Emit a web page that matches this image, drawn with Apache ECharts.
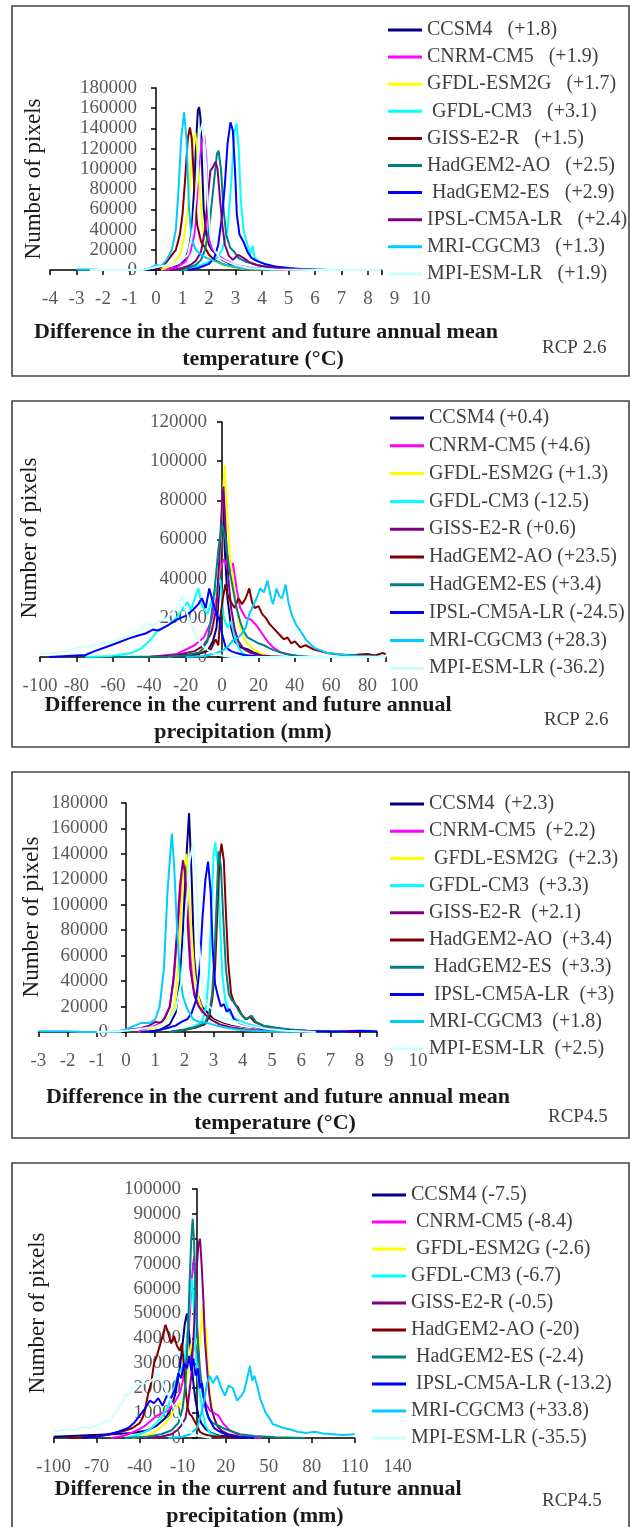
<!DOCTYPE html>
<html><head><meta charset="utf-8">
<script src="https://cdn.jsdelivr.net/npm/echarts@6/dist/echarts.min.js"></script>
<style>html,body{margin:0;padding:0;background:#fff}#c{width:630px;height:1527px}</style>
</head><body><div id="c"></div>
<script>
// ---------- categories / labels ----------
const models1 = ['CCSM4','CNRM-CM5','GFDL-ESM2G',' GFDL-CM3','GISS-E2-R','HadGEM2-AO',' HadGEM2-ES','IPSL-CM5A-LR','MRI-CGCM3','MPI-ESM-LR'];
const deltas1 = ['+1.8','+1.9','+1.7','+3.1','+1.5','+2.5','+2.9','+2.4','+1.3','+1.9'];
const models2 = ['CCSM4','CNRM-CM5','GFDL-ESM2G','GFDL-CM3','GISS-E2-R','HadGEM2-AO','HadGEM2-ES','IPSL-CM5A-LR','MRI-CGCM3','MPI-ESM-LR'];
const deltas2 = ['+0.4','+4.6','+1.3','-12.5','+0.6','+23.5','+3.4','-24.5','+28.3','-36.2'];
const models3 = ['CCSM4','CNRM-CM5',' GFDL-ESM2G','GFDL-CM3','GISS-E2-R','HadGEM2-AO',' HadGEM2-ES',' IPSL-CM5A-LR','MRI-CGCM3','MPI-ESM-LR'];
const deltas3 = ['+2.3','+2.2','+2.3','+3.3','+2.1','+3.4','+3.3','+3','+1.8','+2.5'];
const models4 = ['CCSM4',' CNRM-CM5',' GFDL-ESM2G','GFDL-CM3','GISS-E2-R','HadGEM2-AO',' HadGEM2-ES',' IPSL-CM5A-LR','MRI-CGCM3','MPI-ESM-LR'];
const deltas4 = ['-7.5','-8.4','-2.6','-6.7','-0.5','-20','-2.4','-13.2','+33.8','-35.5'];
const panelTags = ['RCP 2.6','RCP 2.6','RCP4.5','RCP4.5'];
const xTitles = [
  ['Difference in the current and future annual mean','temperature (°C)'],
  ['Difference in the current and future annual','precipitation (mm)'],
  ['Difference in the current and future annual mean','temperature (°C)'],
  ['Difference in the current and future annual','precipitation (mm)']
];
const yTitle = 'Number of pixels';

// ---------- panel 1: temperature, RCP 2.6 ----------
const t26_CCSM4 = [[-0.5,0],[0.2,500],[0.6,2000],[0.9,5000],[1.1,10000],[1.25,22000],[1.35,40000],[1.45,85000],[1.52,130000],[1.58,158000],[1.63,161000],[1.68,150000],[1.73,110000],[1.8,60000],[1.9,35000],[2.0,25000],[2.1,20000],[2.3,15000],[2.5,10000],[2.8,6000],[3.2,3000],[3.8,1000],[4.5,0]];
const t26_CNRM = [[0.3,0],[0.8,3000],[1.1,8000],[1.3,18000],[1.45,35000],[1.55,70000],[1.65,110000],[1.75,130000],[1.82,133000],[1.9,110000],[1.95,60000],[2.0,30000],[2.1,22000],[2.3,15000],[2.6,10000],[3.0,5000],[3.5,2500],[4.2,800],[5,0]];
const t26_GFDLESM = [[0.2,0],[0.6,5000],[0.9,15000],[1.05,30000],[1.2,60000],[1.3,95000],[1.4,125000],[1.48,136000],[1.55,120000],[1.65,80000],[1.75,45000],[1.85,25000],[2.0,15000],[2.2,9000],[2.5,5000],[3.0,2000],[3.5,800],[4.2,0]];
const t26_GFDLCM3 = [[1.0,0],[1.5,3000],[2.0,8000],[2.3,12000],[2.5,20000],[2.7,40000],[2.85,90000],[2.95,135000],[3.04,145000],[3.12,120000],[3.2,70000],[3.3,40000],[3.45,25000],[3.55,15000],[3.65,24000],[3.72,12000],[3.9,8000],[4.2,5000],[4.6,3000],[5.2,1500],[6,500],[7,0]];
const t26_GISS = [[0,0],[0.2,3000],[0.4,8000],[0.6,15000],[0.75,20000],[0.9,35000],[1.0,55000],[1.1,90000],[1.2,130000],[1.28,141000],[1.35,130000],[1.45,80000],[1.55,45000],[1.7,28000],[1.85,22000],[2.0,15000],[2.2,10000],[2.5,6000],[3.0,3000],[3.5,1000],[4.2,0]];
const t26_HadAO = [[0.8,0],[1.2,2000],[1.5,5000],[1.7,10000],[1.85,20000],[2.0,40000],[2.1,65000],[2.2,90000],[2.3,115000],[2.36,118000],[2.45,100000],[2.55,60000],[2.65,35000],[2.8,22000],[2.95,18000],[3.1,12000],[3.4,8000],[3.8,5000],[4.3,2500],[5,1000],[6,0]];
const t26_HadES = [[1.2,0],[1.6,2000],[2.0,6000],[2.2,12000],[2.35,25000],[2.5,55000],[2.6,85000],[2.7,125000],[2.81,146000],[2.9,138000],[2.98,100000],[3.05,55000],[3.15,35000],[3.3,28000],[3.45,18000],[3.6,12000],[3.8,9000],[4.1,6000],[4.5,3500],[5.0,2000],[5.5,800],[6.5,0],[8.5,0]];
const t26_IPSL = [[0.6,0],[1.0,2000],[1.3,5000],[1.5,9000],[1.7,18000],[1.85,40000],[1.95,70000],[2.05,98000],[2.15,102000],[2.25,107000],[2.32,100000],[2.4,75000],[2.5,45000],[2.6,25000],[2.75,14000],[2.9,10000],[3.1,15000],[3.3,12000],[3.5,8000],[3.8,5000],[4.2,3000],[5,1000],[6,0],[8.0,0]];
const t26_MRI = [[-3,500],[-2.5,500],[-2,0],[-0.5,0],[-0.2,2000],[0,5000],[0.2,4000],[0.4,10000],[0.6,20000],[0.75,40000],[0.85,80000],[0.95,130000],[1.06,156000],[1.15,130000],[1.25,60000],[1.35,30000],[1.5,20000],[1.7,15000],[1.9,12000],[2.2,9000],[2.5,6000],[2.8,4000],[3.2,2000],[3.8,800],[4.5,0]];
const t26_MPI = [[-2.5,0],[-0.5,0],[0,3000],[0.5,5000],[0.9,8000],[1.2,15000],[1.4,40000],[1.55,90000],[1.65,135000],[1.75,145000],[1.85,120000],[1.95,70000],[2.05,35000],[2.2,20000],[2.4,12000],[2.7,8000],[3.0,5000],[3.5,2000],[4.5,500],[6,0],[8.5,0]];

// ---------- panel 2: precipitation, RCP 2.6 ----------
const p26_CCSM4 = [[-30,0],[-15,1000],[-8,3000],[-5,8000],[-3,15000],[-1.5,35000],[-0.5,60000],[0.5,82000],[1.5,55000],[3,30000],[5,15000],[7,8000],[10,5000],[14,4000],[18,2000],[25,500],[35,0]];
const p26_CNRM = [[-40,0],[-25,1500],[-15,6000],[-10,10000],[-6,18000],[-3,30000],[-1,45000],[1,50000],[2.5,47000],[4,42000],[6,48000],[8,35000],[10,25000],[13,20000],[16,19000],[19,16000],[22,12000],[25,8000],[28,5000],[32,2500],[38,1000],[45,0]];
const p26_GFDLESM = [[-30,0],[-18,1500],[-12,4000],[-8,8000],[-5,15000],[-3,25000],[-1.5,45000],[0,75000],[1.5,98000],[3,70000],[4.5,50000],[6,40000],[8,25000],[10,15000],[13,8000],[17,4000],[22,1500],[30,0]];
const p26_GFDLCM3 = [[-75,0],[-60,500],[-50,2000],[-45,4000],[-40,8000],[-35,14000],[-30,16000],[-25,20000],[-22,24000],[-19,28000],[-17,24000],[-15,30000],[-13,35000],[-11,26000],[-8,22000],[-6,28000],[-4,32000],[-2,38000],[-1,40000],[0,30000],[1,20000],[3,15000],[5,18000],[7,10000],[9,5000],[11,2000],[14,500],[20,0]];
const p26_GISS = [[-40,0],[-25,1000],[-15,3000],[-10,6000],[-6,12000],[-3,25000],[-1.5,50000],[0,78000],[0.8,87000],[2,65000],[3.5,40000],[5,25000],[7,14000],[9,8000],[12,4000],[16,2000],[22,800],[30,0]];
const p26_HadAO = [[-40,0],[-25,500],[-15,1500],[-10,2500],[-6,4000],[-3.5,9000],[-2,6000],[-1,20000],[0.5,30000],[1.8,37000],[3,32000],[5,28000],[7,25000],[9,30000],[11,27000],[13,30000],[15,35000],[16.5,28000],[18,25000],[20,26000],[22,22000],[24,20000],[26,17000],[28,15000],[30,13000],[32,11000],[34,9000],[36,10000],[38,7000],[40,8000],[43,5000],[46,6000],[50,4000],[54,3000],[58,2000],[62,1500],[68,1000],[74,1200],[80,1500],[84,800],[88,2000],[90,1500]];
const p26_HadES = [[-60,0],[-30,300],[-20,800],[-12,2500],[-8,8000],[-6,20000],[-4,35000],[-2,55000],[0,68000],[2,60000],[4,45000],[6,35000],[8,25000],[10,18000],[12,13000],[14,10000],[16,9000],[18,8000],[20,7000],[23,6000],[26,4500],[30,3000],[35,1500],[42,500],[50,0]];
const p26_IPSL = [[-95,0],[-85,500],[-75,1000],[-70,3000],[-64,5000],[-58,7000],[-51,9500],[-46,11000],[-42,12000],[-38,14000],[-35,13500],[-30,16000],[-25,19000],[-20,21000],[-16,24000],[-13,27000],[-11,30000],[-9,25000],[-7,35000],[-5,28000],[-3,22000],[-1.5,19000],[0,12000],[2,5000],[5,3000],[8,2000],[12,1000],[20,300],[30,0]];
const p26_MRI = [[-20,0],[-10,500],[-5,1500],[0,3000],[3,5000],[6,8500],[9,10000],[11,12000],[13,15000],[15,22000],[17,26000],[19,30000],[21,35000],[23,33000],[25,39000],[27,30000],[28,27000],[30,35000],[31.5,31000],[33,30000],[35,37000],[36.5,28000],[38.5,21000],[41,16000],[44,12000],[46,9000],[48,7000],[51,4500],[54,3500],[58,2000],[62,1700],[68,1000],[75,500],[85,300],[90,0]];
const p26_MPI = [[-100,2000],[-95,1500],[-90,2500],[-85,3000],[-80,4500],[-75,5000],[-70,6000],[-65,7000],[-60,8000],[-55,9500],[-50,11000],[-45,14000],[-42,17000],[-38,16000],[-35,18000],[-30,20000],[-27,23000],[-24,26000],[-22,31000],[-20,24000],[-17,17000],[-14,10000],[-10,5000],[-6,2500],[-2,1000],[5,0],[90,0]];

// ---------- panel 3: temperature, RCP 4.5 ----------
const t45_CCSM4 = [[0.8,0],[1.2,2000],[1.5,6000],[1.7,15000],[1.85,40000],[1.95,80000],[2.05,130000],[2.16,172000],[2.25,120000],[2.33,60000],[2.45,30000],[2.6,20000],[2.8,15000],[3.0,10000],[3.3,7000],[3.6,5000],[4.0,3000],[4.5,1500],[5.2,500],[6,0]];
const t45_CNRM = [[0.4,0],[0.8,3000],[1.1,6000],[1.3,10000],[1.5,20000],[1.65,45000],[1.8,90000],[1.92,120000],[2.0,128000],[2.1,105000],[2.2,60000],[2.3,35000],[2.45,22000],[2.6,16000],[2.8,12000],[3.0,9000],[3.3,6000],[3.7,4000],[4.2,2000],[5,700],[6,0]];
const t45_GFDLESM = [[0.5,0],[1.0,3000],[1.3,7000],[1.5,12000],[1.65,20000],[1.75,40000],[1.85,80000],[1.95,120000],[2.06,140000],[2.15,115000],[2.25,75000],[2.35,45000],[2.5,25000],[2.65,15000],[2.8,12000],[3.0,9000],[3.3,6000],[3.6,4000],[4.0,2500],[4.6,1000],[5.5,0]];
const t45_GFDLCM3 = [[1.5,0],[2.0,2000],[2.3,4000],[2.6,8000],[2.75,20000],[2.85,50000],[2.93,100000],[3.0,140000],[3.06,149000],[3.15,130000],[3.22,85000],[3.3,45000],[3.4,25000],[3.55,15000],[3.7,11000],[3.9,9000],[4.1,7000],[4.4,5000],[4.8,3000],[5.3,1500],[6,500],[7,0]];
const t45_GISS = [[-0.5,0],[0,1500],[0.5,3000],[0.8,5000],[1.0,8000],[1.2,7000],[1.35,12000],[1.5,20000],[1.62,40000],[1.75,80000],[1.85,115000],[1.95,135000],[2.02,125000],[2.1,90000],[2.2,50000],[2.35,28000],[2.5,20000],[2.7,14000],[2.9,10000],[3.2,6000],[3.6,3500],[4.2,1500],[5,500],[6,0]];
const t45_HadAO = [[1.5,0],[2.0,1500],[2.4,3500],[2.7,6000],[2.85,12000],[2.95,25000],[3.05,50000],[3.12,90000],[3.2,135000],[3.27,148000],[3.35,135000],[3.42,95000],[3.5,55000],[3.6,30000],[3.72,22000],[3.82,20000],[3.95,14000],[4.1,10000],[4.25,12000],[4.4,8000],[4.7,5000],[5.0,3500],[5.5,2000],[6.2,1000],[7,500],[8,0]];
const t45_HadES = [[1.5,0],[2.0,2000],[2.4,4000],[2.7,7000],[2.85,15000],[2.95,30000],[3.03,60000],[3.1,100000],[3.17,142000],[3.25,130000],[3.33,90000],[3.42,50000],[3.52,30000],[3.62,25000],[3.72,23000],[3.85,17000],[4.0,12000],[4.15,10000],[4.3,13000],[4.45,8000],[4.7,5000],[5.1,3500],[5.6,2000],[6.3,800],[7.5,0]];
const t45_IPSL = [[0.5,0],[1.0,1000],[1.4,3000],[1.7,5000],[1.9,8000],[2.1,10000],[2.25,15000],[2.4,25000],[2.52,50000],[2.62,90000],[2.72,120000],[2.81,134000],[2.9,110000],[2.97,65000],[3.05,38000],[3.15,28000],[3.25,20000],[3.35,22000],[3.45,16000],[3.55,18000],[3.7,10000],[3.9,7000],[4.2,5000],[4.6,3000],[5.2,1500],[6,500],[7,200],[8,1000],[8.6,500]];
const t45_MRI = [[-3,500],[-2,500],[-1.5,0],[-0.2,0],[0,2000],[0.3,5000],[0.5,7000],[0.8,7000],[1.0,10000],[1.15,20000],[1.3,50000],[1.42,110000],[1.57,156000],[1.65,130000],[1.75,80000],[1.85,45000],[1.95,28000],[2.1,18000],[2.3,10000],[2.5,8000],[2.8,7000],[3.1,5000],[3.4,3500],[3.8,2000],[4.3,1000],[5,300],[6,0]];
const t45_MPI = [[-1,0],[0,1000],[0.5,2500],[1.0,4000],[1.4,8000],[1.7,18000],[1.9,40000],[2.05,90000],[2.18,135000],[2.3,148000],[2.4,120000],[2.5,70000],[2.6,40000],[2.75,22000],[2.95,18000],[3.2,12000],[3.5,10000],[3.8,8000],[4.2,5000],[4.8,2500],[5.5,1000],[6.5,0]];

// ---------- panel 4: precipitation, RCP 4.5 ----------
const p45_CCSM4 = [[-100,500],[-80,1000],[-60,1500],[-45,2000],[-35,3000],[-28,5000],[-22,8000],[-18,12000],[-15,18000],[-12,28000],[-10,38000],[-8.5,46000],[-7,50000],[-5.5,42000],[-4,32000],[-2.5,22000],[-1,15000],[1,9000],[3,6000],[6,3500],[10,2000],[15,1000],[25,400],[35,0]];
const p45_CNRM = [[-60,0],[-50,1000],[-42,3000],[-36,5000],[-32,7000],[-28,9000],[-24,10000],[-20,11000],[-16,14000],[-12,18000],[-9,25000],[-7,35000],[-5,50000],[-3.5,65000],[-2,73000],[-1,60000],[0.5,40000],[2,25000],[4,18000],[6,14000],[9,11000],[12,10000],[15,9000],[18,6000],[22,3500],[28,1500],[35,500],[45,0]];
const p45_GFDLESM = [[-45,0],[-35,1000],[-28,3000],[-22,6000],[-18,9000],[-15,12000],[-12.5,14000],[-10,13000],[-8,20000],[-6,30000],[-4,38000],[-2,35000],[0,40000],[1.5,35000],[3,45000],[4.1,54000],[5,42000],[6.4,44000],[7.5,30000],[9,18000],[11,10000],[13,6000],[16,3500],[20,2000],[28,700],[40,0]];
const p45_GFDLCM3 = [[-50,0],[-40,1500],[-34,3000],[-28,6000],[-24,9000],[-20,13000],[-17,18000],[-14,24000],[-11.5,27000],[-9,30000],[-7,40000],[-5,55000],[-3.4,64000],[-2,50000],[-1,35000],[0.5,25000],[2,18000],[4,10000],[6,5000],[9,2000],[14,800],[20,0]];
const p45_GISS = [[-40,0],[-25,500],[-18,1500],[-14,3000],[-11,5000],[-8,8000],[-6,15000],[-4,25000],[-2,45000],[0,70000],[1,78000],[2.1,80000],[3.2,70000],[4.5,55000],[5.5,40000],[7,28000],[8.5,18000],[10,12000],[12,8000],[14,5000],[17,3000],[22,1500],[30,500],[40,0]];
const p45_HadAO = [[-90,0],[-75,500],[-60,1500],[-50,3000],[-45,4000],[-40,6000],[-38,8000],[-36,12000],[-34,18000],[-32,22000],[-30,30000],[-28,33000],[-26,37000],[-24,41000],[-22,45500],[-20,42000],[-18,38000],[-16,41000],[-14,37000],[-12,35000],[-10.5,38000],[-9,28000],[-8,20000],[-6.5,12000],[-5,9500],[-3.5,8700],[-2,7000],[0,5000],[2,2500],[5,1500],[10,800],[20,300],[30,0]];
const p45_HadES = [[-50,0],[-35,500],[-25,1500],[-18,3000],[-13,6000],[-10,12000],[-8,22000],[-6.5,40000],[-5,65000],[-4,80000],[-3,88000],[-2,78000],[-1,55000],[0.5,40000],[2,28000],[4,18000],[6,12000],[8,8000],[11,6000],[15,5000],[20,3500],[25,2500],[30,1500],[40,800],[55,300],[75,0]];
const p45_IPSL = [[-80,0],[-65,1000],[-55,2500],[-48,4000],[-44,6000],[-40,9000],[-36,12000],[-33,15000],[-30,14000],[-27,16000],[-24,13000],[-21,17000],[-18,16000],[-15,20000],[-13,26000],[-11,24000],[-9,30000],[-7,28000],[-5.5,33000],[-4,27000],[-2.5,32000],[-1,25000],[0.5,28000],[2,20000],[3.5,22000],[5,15000],[7,10000],[9,7000],[12,4000],[16,2500],[22,1000],[30,300],[40,0]];
const p45_MRI = [[-20,0],[-10,500],[-5,1500],[0,4000],[3,10000],[5,15000],[7,22000],[9,25000],[11,22000],[14,25000],[17,20000],[19.5,17000],[22,21000],[25,20000],[28,15000],[31,17000],[33,19000],[35,24000],[37,29000],[38.5,23000],[40,25000],[42,21000],[44,16000],[46,13000],[48,10000],[50,8500],[53,5500],[56,5000],[60,4000],[65,3500],[70,2500],[76,2000],[82,2500],[88,1800],[95,1500],[102,1200],[110,1500]];
const p45_MPI = [[-100,2500],[-95,3000],[-90,3500],[-85,3000],[-80,4500],[-75,4000],[-70,5000],[-65,6000],[-60,7500],[-56,11000],[-52,14000],[-50,17000],[-47,18000],[-45,20000],[-42,21000],[-38,22000],[-34,22000],[-30,24000],[-27,26000],[-24,22000],[-20,17000],[-16,12000],[-12,8000],[-8,4000],[-4,2000],[0,1000],[5,500],[10,0]];

// ---------- colours (by legend position) ----------
const colors1 = ['#000080','#FF00FF','#FFFF00','#00FFFF','#800000','#008080','#0000FF','#800080','#00CCFF','#CCFFFF'];
const colors2 = ['#000080','#FF00FF','#FFFF00','#00FFFF','#800080','#800000','#008080','#0000FF','#00CCFF','#CCFFFF'];

const panelData = [
  [t26_CCSM4,t26_CNRM,t26_GFDLESM,t26_GFDLCM3,t26_GISS,t26_HadAO,t26_HadES,t26_IPSL,t26_MRI,t26_MPI],
  [p26_CCSM4,p26_CNRM,p26_GFDLESM,p26_GFDLCM3,p26_GISS,p26_HadAO,p26_HadES,p26_IPSL,p26_MRI,p26_MPI],
  [t45_CCSM4,t45_CNRM,t45_GFDLESM,t45_GFDLCM3,t45_GISS,t45_HadAO,t45_HadES,t45_IPSL,t45_MRI,t45_MPI],
  [p45_CCSM4,p45_CNRM,p45_GFDLESM,p45_GFDLCM3,p45_GISS,p45_HadAO,p45_HadES,p45_IPSL,p45_MRI,p45_MPI]
];
const panelModels = [models1,models2,models3,models4];
const panelDeltas = [deltas1,deltas2,deltas3,deltas4];
const panelColors = [colors1,colors2,colors2,colors2];
const panelSep = ['   ', ' ', '  ', ' '];

// axis ranges: [min, dataMax, labelMax, interval]  /  [yMin, yMax, yInterval]
const xRange1 = [-4, 8.5, 10, 1];     const yRange1 = [0, 180000, 20000];
const xRange2 = [-100, 90, 100, 20];  const yRange2 = [0, 120000, 20000];
const xRange3 = [-3, 8.6, 10, 1];     const yRange3 = [0, 180000, 20000];
const xRange4 = [-100, 110, 140, 30]; const yRange4 = [0, 100000, 10000];
const xRanges = [xRange1,xRange2,xRange3,xRange4];
const yRanges = [yRange1,yRange2,yRange3,yRange4];

// ---------- layout (pixels) ----------
const L = [
  {x0:156, ppu:26.5,  yTop:88,   yBot:270,  ylm:19, box:[12,6,617,370],   leg:[388,20,7.1],
   t1:[266,332], t2:[263,359], tag:[542,348], yt:[34,179]},
  {x0:222, ppu:1.82,  yTop:422,  yBot:657,  ylm:15, box:[12,401,617,346], leg:[390,408,7.8],
   t1:[248,705], t2:[243,732], tag:[544,720], yt:[30,538]},
  {x0:126, ppu:29.2,  yTop:803,  yBot:1032, ylm:18, box:[12,772,617,366], leg:[390,794,7.2],
   t1:[278,1097], t2:[275,1123], tag:[548,1117], yt:[32,917]},
  {x0:197, ppu:1.433, yTop:1189, yBot:1438, ylm:16, box:[12,1163,617,400], leg:[372,1185,7.0],
   t1:[258,1489], t2:[255,1516], tag:[542,1501], yt:[38,1313]}
];

const FONT = 'Liberation Serif';
const grids = [], xAxes = [], yAxes = [], series = [], legends = [], graphics = [];
const AX = {color:'#000', width:1.5};

for (let p = 0; p < 4; p++) {
  const g = L[p], xr = xRanges[p], yr = yRanges[p];
  const left = g.x0 + xr[0]*g.ppu;
  const wData = (xr[1]-xr[0])*g.ppu, wLab = (xr[2]-xr[0])*g.ppu, h = g.yBot-g.yTop;
  const gi = grids.length;
  // data grid
  grids.push({left:left, top:g.yTop, width:wData, height:h, containLabel:false, outerBoundsMode:'none'});
  // label grid for x tick labels
  grids.push({left:left, top:g.yTop, width:wLab, height:h, containLabel:false, outerBoundsMode:'none'});
  // grid whose left edge sits on x = 0, carrying the visible y axis
  grids.push({left:g.x0, top:g.yTop, width:20, height:h, containLabel:false, outerBoundsMode:'none'});

  xAxes.push({type:'value', gridIndex:gi, min:xr[0], max:xr[1], interval:xr[3], position:'bottom',
    axisLine:{show:true, onZero:false, lineStyle:AX},
    axisTick:{show:true, length:5, lineStyle:AX},
    axisLabel:{show:false}, splitLine:{show:false}});
  yAxes.push({type:'value', gridIndex:gi, min:yr[0], max:yr[1], interval:yr[2], show:false,
    axisLine:{onZero:false}});

  xAxes.push({type:'value', gridIndex:gi+1, min:xr[0], max:xr[2], interval:xr[3], position:'bottom',
    axisLine:{show:false, onZero:false}, axisTick:{show:false}, splitLine:{show:false},
    axisLabel:{show:true, margin:20, color:'#595959', fontFamily:FONT, fontSize:19,
      showMinLabel:true, showMaxLabel:true, formatter:v=>String(v)}});
  yAxes.push({type:'value', gridIndex:gi+1, min:0, max:1, show:false, axisLine:{onZero:false}});

  xAxes.push({type:'value', gridIndex:gi+2, min:0, max:1, show:false, axisLine:{onZero:false}});
  yAxes.push({type:'value', gridIndex:gi+2, min:yr[0], max:yr[1], interval:yr[2], position:'left',
    axisLine:{show:true, onZero:false, lineStyle:AX},
    axisTick:{show:true, length:5, lineStyle:AX},
    splitLine:{show:false},
    axisLabel:{margin:g.ylm, color:'#595959', fontFamily:FONT, fontSize:19, formatter:v=>String(v)}});

  const names = [];
  for (let i = 0; i < 10; i++) {
    const nm = panelModels[p][i] + panelSep[p] + '(' + panelDeltas[p][i] + ')';
    names.push(nm);
    series.push({type:'line', name:nm, xAxisIndex:gi, yAxisIndex:gi,
      data:panelData[p][i], symbol:'none', smooth:false, clip:true,
      color:panelColors[p][i], lineStyle:{width:2, color:panelColors[p][i]}, z:3+i*0.01});
  }
  legends.push({orient:'vertical', left:g.leg[0], top:g.leg[1], itemGap:g.leg[2], padding:0,
    itemWidth:34, itemHeight:3, icon:'rect', selectedMode:false, data:names,
    textStyle:{fontFamily:FONT, fontSize:20, color:'#404040', lineHeight:20}});

  graphics.push({type:'rect', shape:{x:g.box[0], y:g.box[1], width:g.box[2], height:g.box[3]},
    style:{fill:'none', stroke:'#444', lineWidth:1.6}, z:-10, silent:true});
  graphics.push({type:'text', x:g.t1[0], y:g.t1[1], style:{text:xTitles[p][0], align:'center', verticalAlign:'middle',
    font:'bold 22px "'+FONT+'"', fill:'#1a1a1a'}});
  graphics.push({type:'text', x:g.t2[0], y:g.t2[1], style:{text:xTitles[p][1], align:'center', verticalAlign:'middle',
    font:'bold 22px "'+FONT+'"', fill:'#1a1a1a'}});
  graphics.push({type:'text', x:g.tag[0], y:g.tag[1], style:{text:panelTags[p], align:'left', verticalAlign:'middle',
    font:'19px "'+FONT+'"', fill:'#404040'}});
  graphics.push({type:'text', x:g.yt[0], y:g.yt[1], rotation:Math.PI/2, style:{text:yTitle, align:'center', verticalAlign:'middle',
    font:'23px "'+FONT+'"', fill:'#1a1a1a'}});
}

const chart = echarts.init(document.getElementById('c'), null, {renderer:'canvas'});
chart.setOption({animation:false, backgroundColor:'#fff', grid:grids, xAxis:xAxes, yAxis:yAxes,
  series:series, legend:legends, graphic:graphics});
</script></body></html>
